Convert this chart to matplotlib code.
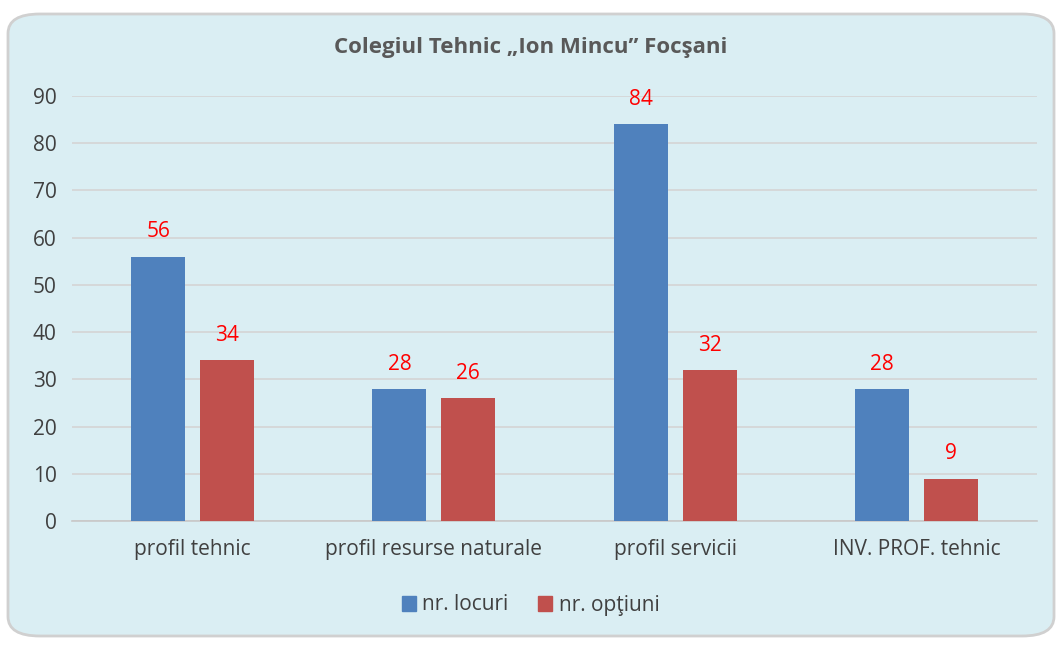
import matplotlib
matplotlib.use('Agg')
from matplotlib import pyplot as plt
from matplotlib.patches import FancyBboxPatch, Patch
import numpy as np

categories = ['profil tehnic', 'profil resurse naturale', 'profil servicii', 'INV. PROF. tehnic']
locuri = [56, 28, 84, 28]
optiuni = [34, 26, 32, 9]
series_names = ['nr. locuri', 'nr. opţiuni']

plt.rcParams['font.family'] = ['Open Sans', 'DejaVu Sans']

fig = plt.figure(figsize=(10.61, 6.46), dpi=100)
fig.patch.set_facecolor('white')

# rounded chart box, drawn below the axes
box = FancyBboxPatch((8 / 1061, 10 / 646), 1046 / 1061, 622 / 646,
                     boxstyle='round,pad=0,rounding_size=0.03',
                     transform=fig.transFigure, facecolor='#DAEEF3',
                     edgecolor='#D0D0D0', linewidth=2, zorder=-5)
fig.patches.append(box)

ax = fig.add_axes([72 / 1061, 1 - 521 / 646, 965 / 1061, 425 / 646])
ax.set_facecolor('none')

x = np.arange(len(categories))
w = 0.224
off = 0.143
b1 = ax.bar(x - off, locuri, w, color='#4F81BD', zorder=3)
b2 = ax.bar(x + off, optiuni, w, color='#C0504D', zorder=3)

for bars in (b1, b2):
    for r in bars:
        ax.text(r.get_x() + r.get_width() / 2, r.get_height() + 3.0,
                str(int(r.get_height())), ha='center', va='bottom',
                color='#FF0000', fontsize=15)

ax.set_xlim(-0.5, 3.5)
ax.set_ylim(0, 90)
ax.set_yticks(range(0, 91, 10))
ax.set_xticks(x)
ax.set_xticklabels(categories)
ax.tick_params(axis='both', length=0, labelsize=15, labelcolor='#404040')
ax.tick_params(axis='y', pad=11)
ax.tick_params(axis='x', pad=13)
ax.grid(axis='y', color='#D4D4D4', linewidth=1.2, zorder=0)
for s in ['top', 'right', 'left']:
    ax.spines[s].set_visible(False)
ax.spines['bottom'].set_color('#C8C8C8')
ax.spines['bottom'].set_linewidth(1.2)

fig.text(0.5, 1 - 47 / 646, 'Colegiul Tehnic „Ion Mincu” Focşani',
         ha='center', va='center', fontsize=16, fontweight='bold', color='#595959')

handles = [Patch(color='#4F81BD'), Patch(color='#C0504D')]
fig.legend(handles, series_names, loc='center', bbox_to_anchor=(0.5, 1 - 605 / 646),
           ncol=2, frameon=False, fontsize=15, handlelength=0.7, handleheight=0.7,
           handletextpad=0.3, columnspacing=1.4, labelcolor='#404040')

plt.savefig('out.png', dpi=100, facecolor=fig.get_facecolor())
